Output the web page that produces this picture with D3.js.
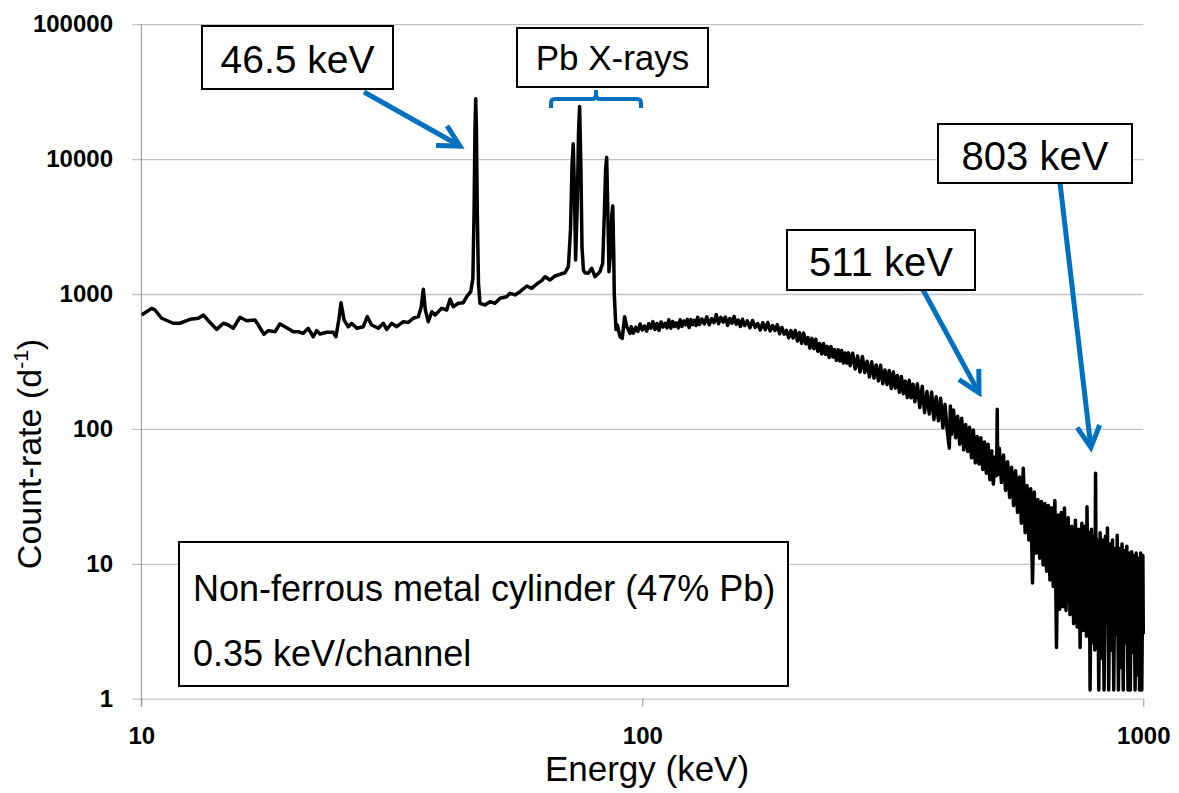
<!DOCTYPE html>
<html><head><meta charset="utf-8">
<script src="https://cdn.jsdelivr.net/npm/d3@7"></script>
<style>body{margin:0;background:#fff;} svg{display:block;font-family:"Liberation Sans",Arial,sans-serif;}</style>
</head><body>
<svg id="chart" width="1179" height="793"></svg>
<script>
// ---------- DATA (energy in keV, count-rate in d^-1) ----------
const energyA = [10.02,10.49,10.65,10.98,11.58,11.94,12.51,13.00,13.30,13.61,14.14,14.58,14.92,15.26,15.74,16.23,16.86,17.12,17.57,17.93,18.49,18.91,19.51,20.11,20.58,21.05,21.54,22.04,22.39,22.73,23.44,24.16,24.46,24.8,25.04,25.4,25.89,26.30,26.92,27.74,28.25,28.83,29.72,30.41,30.89,31.61,32.34,33.34,34.12,34.91,35.72,36.2,36.55,36.9,37.40,38.00,38.58,39.78,40.70,41.33,41.96,42.93,43.93,44.62,45.45];
const countA  = [699,783,761,661,607,607,649,661,699,634,547,607,589,557,672,634,642,589,503,535,525,600,562,525,525,511,557,482,535,505,520,520,482,650,862,640,572,607,557,572,679,589,557,607,546,607,572,623,616,661,679,800,1084,760,623,739,699,783,761,914,805,853,862,955,1040];

const energyPeak46 = [45.9,46.15,46.35,46.5,46.65,46.85,47.1];
const countPeak46  = [1300,4000,17000,28000,17000,4000,1200];

const energyMid = [47.43,48.53,49.66,50.8,52.0,53.62,54.45,55.7,57.0,58.8,60.16,61.56,62.99,63.96,65.45,66.96,68.5,70.1,71.2];
const countMid  = [853,829,877,853,929,955,1012,984,1040,1146,1102,1186,1256,1343,1270,1360,1400,1438,1593];

const energyPb = [71.9,72.4,72.8,73.2,73.6,74.2,74.6,74.97,75.4,75.8,76.3,76.84,78.0,79.25,80.45,82.3,83.36,84.0,84.5,84.9,85.3,85.8,86.4,86.9,87.3,87.7,87.9,88.6,89.13,90.3,91.2,92.2,93.1,94.5];
const countPb  = [3000,9000,13000,6000,1787,5000,16000,24500,9000,2200,1500,1438,1425,1550,1343,1463,1689,4000,8500,10300,4500,1463,2000,3800,4500,2000,1012,546,589,482,469,679,572,511];

const energyB = [95,96,97,98,99,100,101,102,103,104,105,106,107,108,109,110,111,112,113,114,115,116,117,118,119,120,121,122,123,124,125,126,127,128,129,130];
const countB  = [572,512,567,527,599,542,579,530,602,558,624,545,605,537,620,569,607,561,645,558,626,574,612,560,645,575,631,591,648,564,646,592,638,584,673,594];

const energyC = [131.5,133,134.5,136,137.5,139,140.5,142,143.5,145,146.5,148,149.5,151,152.5,154,155.5,157,158.5,160];
const countC  = [653,599,677,591,656,613,704,602,671,619,675,585,659,608,681,596,641,575,650,584];

const energyD = [162,164,166,168,170,172,174,176,178,180,182,184,186,188,190,192,194,196,198,200];
const countD  = [633,562,636,566,604,541,612,544,615,532,584,536,592,507,565,504,538,473,535,472];

const energyE = [202,204,206,208,210,212,214,216,218,220,222,224,226,228,230,232,234,236,238,240,242,244,246,248,250,252,254,256,258,260];
const countE  = [536,449,517,431,513,426,476,397,469,393,462,376,430,360,429,357,409,338,408,341,388,322,386,319,381,308,365,307,366,294];

const energyF = [263,266,269,272,275,278,281,284,287,290,293,296,299,302,305,308,311,314,317,320,323,326,329,332,335,338,341,344,347,350];
const countF  = [364,278,347,264,344,262,317,243,315,238,298,227,297,216,273,213,271,199,265,201,249,187,245,182,226,171,229,170,214,159];

const energyG = [354,358,362,366,370,374,378,382,386,390,394,398,402,406,410,412,414,418,422,426,430,434,438,442,446,450,454,458,462,466,470,474,478,482,486,490,494,498,502];
const countG  = [216,144,207,132,189,129,188,117,173,115,169,102,152,98,72,148,91,138,86,124,77,120,70,108,68,103,61,98,56,88,55,86,50,80,47,77,42,69,39];

const energy511 = [506,509,510.3,511,511.7,513];
const count511  = [62,45,75,140,70,46];

const energyH = [516,521,526,531,536,541,546,551,556,561,566,571,576,581,586,591,596,601,606,611,616,621,626,631,636,641,646,651,656,661,666,671,676,681,686,691,696,701];
const countH  = [72,40,64,35,57,31,52,27,49,24,44,20,51,17,38,15,36,7.2,34,12,30,11,29,9.8,28,8.8,27,7.6,26,6.8,29.5,2.4,23,4.6,24,4.8,25.9,4.5];

const energyI = [708,714,720,726,732,738,743,748,754,760,765,770,772,777,780,783,788,793,797,800,803,806,810,815,820,825,830,835,840,845,848,853,858,863,868,873,878,884,887,892,897,902,907,912,917,922,927,932,937,942,948,953,958,963,968,973,978,983,988,993,998,1000];
const countI  = [22,4.2,19,3.6,21,3.4,18,2.4,20,3.2,19,2.9,26.5,3.0,17,1.16,18,2.6,16,2.3,47,2.4,15,1.16,17,2.0,15,1.16,16,3.8,18.4,1.16,14,2.3,15,1.16,13,3.0,16.3,1.16,13,1.7,14,1.16,12.5,2.6,13.5,1.16,12,1.16,12.3,2.2,11.5,1.16,12,1.5,11,1.16,12,1.16,11.5,3];

const xTicks = [10,100,1000];
const xTickLabels = ["10","100","1000"];
const yTicks = [1,10,100,1000,10000,100000];
const yTickLabels = ["1","10","100","1000","10000","100000"];

// callouts: label text and the data point (energy, count) the arrow points at
const calloutTexts = ["46.5 keV","511 keV","803 keV"];
const calloutTipEnergy = [43.26,470,786];
const calloutTipCount  = [12500,185,73];
const bracketText = "Pb X-rays";
const legendLines = ["Non-ferrous metal cylinder (47% Pb)","0.35 keV/channel"];

// ---------- LAYOUT ----------
const L = 141.3, R = 1143.3, T = 24.2, B = 698.7;
const svg = d3.select("#chart");
const x = d3.scaleLog().domain([10,1000]).range([L,R]);
const y = d3.scaleLog().domain([1,100000]).range([B,T]);

// y gridlines + labels
const yAxis = d3.axisLeft(y).tickValues(yTicks)
  .tickFormat((d,i)=>yTickLabels[i]).tickSize(-(R-132)).tickPadding(19).tickSizeOuter(0);
const gy = svg.append("g").attr("transform","translate(132,0)").call(yAxis);
gy.select(".domain").remove();
gy.selectAll(".tick line").attr("stroke","#c3c3c3").attr("stroke-width",1.3);
gy.selectAll(".tick text").attr("fill","#000").attr("font-size",24).attr("font-weight","bold")
  .attr("font-family","'Liberation Sans',Arial,sans-serif");

// x ticks + labels
const xAxis = d3.axisBottom(x).tickValues(xTicks)
  .tickFormat((d,i)=>xTickLabels[i]).tickSize(8).tickPadding(20).tickSizeOuter(0);
const gx = svg.append("g").attr("transform",`translate(0,${B})`).call(xAxis);
gx.select(".domain").remove();
gx.selectAll(".tick line").attr("stroke","#8e8e8e").attr("stroke-width",1);
gx.selectAll(".tick text").attr("fill","#000").attr("font-size",24).attr("font-weight","bold")
  .attr("font-family","'Liberation Sans',Arial,sans-serif");

// y axis line
svg.append("line").attr("x1",L).attr("x2",L).attr("y1",T).attr("y2",B+8)
  .attr("stroke","#8e8e8e").attr("stroke-width",1);

// spectrum
const segments = [[energyA,countA],[energyPeak46,countPeak46],[energyMid,countMid],[energyPb,countPb],
  [energyB,countB],[energyC,countC],[energyD,countD],[energyE,countE],[energyF,countF],[energyG,countG],
  [energy511,count511],[energyH,countH],[energyI,countI]];
const spectrum = segments.flatMap(([e,c]) => e.map((v,i)=>({e:v,c:c[i]})));

svg.append("clipPath").attr("id","plotclip").append("rect")
  .attr("x",L).attr("y",T-2).attr("width",R-L+2).attr("height",B-T+4);
svg.append("path").datum(spectrum)
  .attr("clip-path","url(#plotclip)")
  .attr("d", d3.line().x(d=>x(d.e)).y(d=>y(d.c)))
  .attr("fill","none").attr("stroke","#000").attr("stroke-width",3.5)
  .attr("stroke-linejoin","round");

// axis titles
svg.append("text").attr("x",647).attr("y",781).attr("text-anchor","middle")
  .attr("font-size",35).attr("fill","#000").text("Energy (keV)");
const yt = svg.append("text").attr("transform","translate(41,454) rotate(-90)")
  .attr("text-anchor","middle").attr("font-size",34).attr("fill","#000");
yt.append("tspan").text("Count-rate (d");
yt.append("tspan").attr("font-size",21).attr("dy",-13).text("-1");
yt.append("tspan").attr("dy",13).text(")");

// ---------- annotations ----------
const blue = "#0070c0";
function box(x0,y0,w,h){
  svg.append("rect").attr("x",x0).attr("y",y0).attr("width",w).attr("height",h)
    .attr("fill","#fff").attr("stroke","#000").attr("stroke-width",2);
}
function arrow(x0,y0,x1,y1){
  svg.append("line").attr("x1",x0).attr("y1",y0).attr("x2",x1).attr("y2",y1)
    .attr("stroke",blue).attr("stroke-width",5);
  const a = Math.atan2(y0-y1,x0-x1), len = 24, spread = 28*Math.PI/180;
  const p1 = [x1+len*Math.cos(a+spread), y1+len*Math.sin(a+spread)];
  const p2 = [x1+len*Math.cos(a-spread), y1+len*Math.sin(a-spread)];
  svg.append("path").attr("d",`M${p1[0]},${p1[1]}L${x1},${y1}L${p2[0]},${p2[1]}`)
    .attr("fill","none").attr("stroke",blue).attr("stroke-width",5).attr("stroke-linejoin","miter");
}

// callout boxes: [x, y, w, h, font size, baseline, arrow start x, arrow start y]
const calloutLayout = [
  [202,26,191,63,39,72.5,364,92],
  [787,230,188,60,40,276,922,288],
  [938,124,194,59,40,170,1060,183]
];
calloutTexts.forEach((t,i)=>{
  const [bx,by,bw,bh,fs,bl,ax,ay] = calloutLayout[i];
  arrow(ax,ay,x(calloutTipEnergy[i]),y(calloutTipCount[i]));
  box(bx,by,bw,bh);
  svg.append("text").attr("x",bx+bw/2).attr("y",bl).attr("text-anchor","middle")
    .attr("font-size",fs).attr("fill","#000").text(t);
});

// Pb X-rays bracket + box
box(517,28,191,59);
svg.append("text").attr("x",612.5).attr("y",69.8).attr("text-anchor","middle")
  .attr("font-size",35).attr("fill","#000").text(bracketText);
svg.append("path")
  .attr("d","M551,108 L551,103 Q551,99 555,99 L592,99 Q596,99 596,95 L596,90 M596,95 Q596,99 600,99 L637,99 Q641,99 641,103 L641,108")
  .attr("fill","none").attr("stroke",blue).attr("stroke-width",4);

// legend box
box(179,542,609,144);
svg.append("text").attr("x",193).attr("y",601).attr("font-size",36).attr("fill","#000").text(legendLines[0]);
svg.append("text").attr("x",193).attr("y",666).attr("font-size",36).attr("fill","#000").text(legendLines[1]);
</script>
</body></html>
